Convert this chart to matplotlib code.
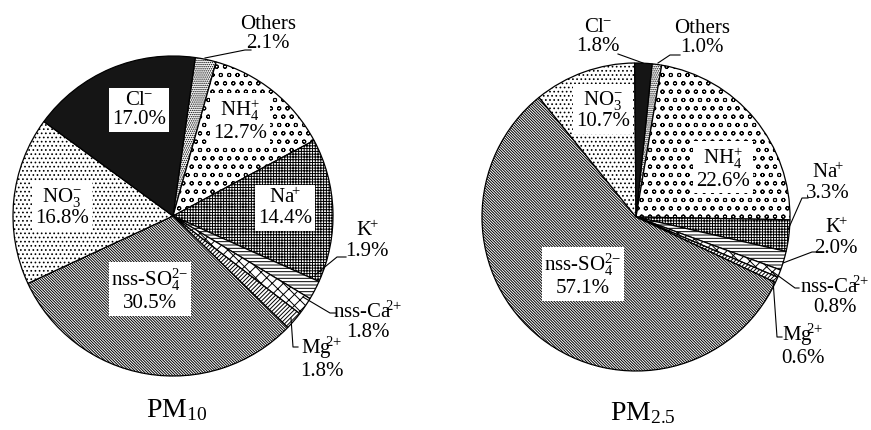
import matplotlib
matplotlib.use("Agg")
import matplotlib.pyplot as plt

plt.rcParams['font.family'] = 'Liberation Serif'
plt.rcParams['mathtext.fontset'] = 'custom'
plt.rcParams['mathtext.rm'] = 'Liberation Serif'
plt.rcParams['hatch.linewidth'] = 0.7

# Datos (porcentajes, en sentido horario desde "Others")
componentes = ['Others', 'NH4+', 'Na+', 'K+', 'nss-Ca2+', 'Mg2+', 'nss-SO42-', 'NO3-', 'Cl-']
nombres = ['Others', r'NH$\mathregular{_4^{+}}$', r'Na$\mathregular{^{\!\!+}}$', r'K$\mathregular{^{\!\!+}}$',
           r'nss-Ca$\mathregular{^{\!\!2{+}}}$', r'Mg$\mathregular{^{\!\!2{+}}}$',
           r'nss-SO$\mathregular{_4^{2{-}}}$', r'NO$\mathregular{_3^{\!-}}$', r'Cl$\mathregular{^{\!\!-}}$']
pm10 = [2.1, 12.7, 14.4, 1.9, 1.8, 1.8, 30.5, 16.8, 17.0]
pm25 = [1.0, 22.6, 3.3, 2.0, 0.8, 0.6, 57.1, 10.7, 1.8]
titulos = [r'PM$\mathregular{_{10}}$', r'PM$\mathregular{_{2.5}}$']

# Estilo de cada porcion: (relleno, trama)
estilos = [('white', '.' * 8), ('white', 'oo'), ('white', '+' * 6), ('white', '-----'),
           ('white', 'xxx'), ('white', '/' * 8), ('white', '\\' * 12), ('white', '....'),
           ('#151515', None)]

fig = plt.figure(figsize=(8.71, 4.30), dpi=100)
ax = fig.add_axes([0, 0, 1, 1])


def dibujar_pastel(valores, centro, radio, inicio):
    cunas, _ = ax.pie(valores, center=centro, radius=radio, startangle=-inicio,
                      counterclock=True,
                      wedgeprops=dict(edgecolor='black', linewidth=0.9))
    for cuna, (relleno, trama) in zip(cunas, estilos):
        cuna.set_facecolor(relleno)
        if trama:
            cuna.set_hatch(trama)


def etiqueta(i, valores, x, y, caja=True):
    texto = f"{nombres[i]}\n{valores[i]:.1f}%"
    props = dict(facecolor='white', edgecolor='none', pad=2) if caja else None
    ax.text(x, y, texto, ha='center', va='center', fontsize=15,
            linespacing=1.05, bbox=props)


def linea(puntos):
    xs = [p[0] for p in puntos]
    ys = [p[1] for p in puntos]
    ax.plot(xs, ys, color='black', lw=0.8)


# PM10
dibujar_pastel(pm10, (173, 216), 160, 82)
etiqueta(8, pm10, 139, 110)
etiqueta(1, pm10, 240, 120)
etiqueta(2, pm10, 285, 208)
etiqueta(7, pm10, 62, 207)
etiqueta(6, pm10, 150, 290)
etiqueta(0, pm10, 268, 34, caja=False)
etiqueta(3, pm10, 367, 241, caja=False)
etiqueta(4, pm10, 368, 322, caja=False)
etiqueta(5, pm10, 322, 358, caja=False)
linea([(205, 58), (245, 50), (251, 50)])
linea([(315, 275), (337, 257), (346, 257)])
linea([(303, 297), (330, 313), (336, 313)])
linea([(291, 318), (293, 347), (298, 347)])
ax.text(177, 410, titulos[0], ha='center', va='center', fontsize=20)

# PM2.5
dibujar_pastel(pm25, (636, 217), 154, 84)
etiqueta(7, pm25, 603, 110)
etiqueta(1, pm25, 723, 168)
etiqueta(6, pm25, 583, 275)
etiqueta(8, pm25, 598, 37, caja=False)
etiqueta(0, pm25, 702, 38, caja=False)
etiqueta(2, pm25, 828, 183, caja=False)
etiqueta(3, pm25, 836, 238, caja=False)
etiqueta(4, pm25, 835, 297, caja=False)
etiqueta(5, pm25, 803, 345, caja=False)
linea([(618, 54), (643, 63)])
linea([(658, 63), (670, 55), (680, 55)])
linea([(787, 232), (802, 198), (808, 198)])
linea([(783, 263), (812, 252), (816, 252)])
linea([(773, 272), (795, 288), (799, 288)])
linea([(773, 280), (777, 337), (782, 337)])
ax.text(643, 413, titulos[1], ha='center', va='center', fontsize=20)

ax.set_xlim(0, 871)
ax.set_ylim(430, 0)
ax.set_aspect('auto')
ax.axis('off')

fig.savefig('out.png', dpi=100)
